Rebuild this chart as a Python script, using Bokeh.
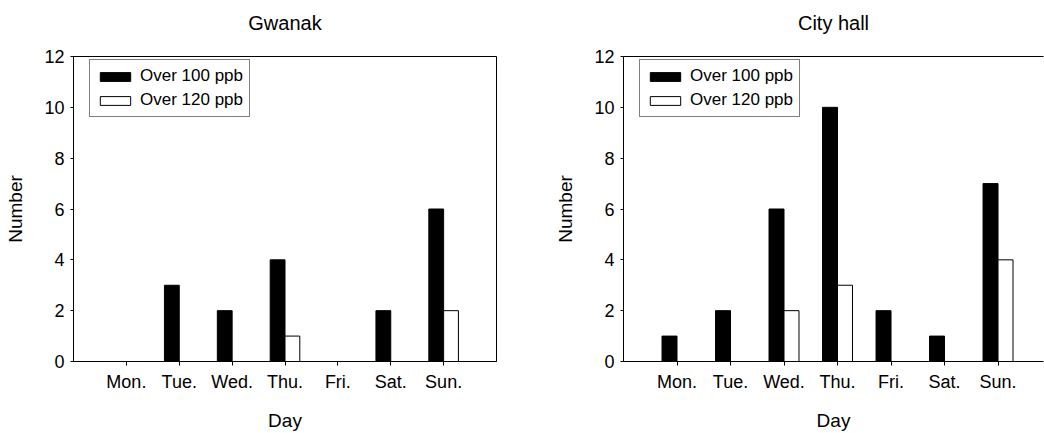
import numpy as np
from bokeh.plotting import figure
from bokeh.layouts import row
from bokeh.models import FixedTicker, Range1d, Legend, LegendItem, LinearAxis, Title
from bokeh.embed import file_html
from bokeh.resources import INLINE

days = ["Mon.", "Tue.", "Wed.", "Thu.", "Fri.", "Sat.", "Sun."]
day_pos = [1, 2, 3, 4, 5, 6, 7]
gwanak_over100 = [0, 3, 2, 4, 0, 2, 6]
gwanak_over120 = [0, 0, 0, 1, 0, 0, 2]
cityhall_over100 = [1, 2, 6, 10, 2, 1, 7]
cityhall_over120 = [0, 0, 2, 3, 0, 0, 4]
y_ticks = [0, 2, 4, 6, 8, 10, 12]
series_labels = ["Over 100 ppb", "Over 120 ppb"]

FONT = "Liberation Sans"
BAR_W = 0.28
FRAME_H = 307
LEGEND_H = 56


def style_axis(ax):
    ax.axis_line_color = "black"
    ax.axis_line_width = 1
    ax.major_tick_line_color = "black"
    ax.major_tick_in = 0
    ax.minor_tick_line_color = None
    ax.major_label_text_font = FONT
    ax.major_label_text_font_size = "18px"
    ax.major_label_text_color = "black"
    ax.axis_label_text_font = FONT
    ax.axis_label_text_font_size = "19px"
    ax.axis_label_text_font_style = "normal"
    ax.axis_label_text_color = "black"


def make(title, v100, v120, width, x_end, border_right, closed):
    p = figure(width=width, height=433, output_backend="svg", toolbar_location=None,
               x_range=Range1d(0, x_end), y_range=Range1d(0, 12),
               min_border_left=73, min_border_right=border_right,
               min_border_top=54, min_border_bottom=72)
    p.title.text = title
    p.title.align = "center"
    p.title.text_font = FONT
    p.title.text_font_size = "20px"
    p.title.text_font_style = "normal"
    p.title.text_color = "black"
    p.title.standoff = 18
    p.xgrid.visible = False
    p.ygrid.visible = False
    p.background_fill_color = "white"
    p.border_fill_color = "white"
    if closed:
        p.outline_line_color = "black"
        p.outline_line_width = 1
    else:
        p.outline_line_color = None
        top = LinearAxis(ticker=FixedTicker(ticks=[]), major_tick_out=0, major_tick_in=0,
                         major_label_standoff=0, major_label_text_font_size="0px")
        top.axis_line_color = "black"
        top.major_tick_line_color = None
        top.minor_tick_line_color = None
        p.add_layout(top, "above")
    # spacer between the title and the frame
    spacer = Title(text=" ", text_font_size="1px", standoff=11)
    p.add_layout(spacer, "above")

    x = np.array(day_pos, dtype=float)
    r1 = p.vbar(x=x - BAR_W / 2, top=v100, width=BAR_W, bottom=0,
                fill_color="black", line_color="black", line_width=1)
    r2 = p.vbar(x=x + BAR_W / 2, top=v120, width=BAR_W, bottom=0,
                fill_color="white", line_color="black", line_width=1)

    xa = p.below[0]
    style_axis(xa)
    xa.ticker = FixedTicker(ticks=day_pos)
    xa.major_label_overrides = {d: lab for d, lab in zip(day_pos, days)}
    xa.major_tick_out = 4
    xa.major_label_standoff = 6
    xa.axis_label = "Day"
    xa.axis_label_standoff = 15

    ya = p.left[0]
    style_axis(ya)
    ya.ticker = FixedTicker(ticks=y_ticks)
    ya.major_tick_out = 3
    ya.major_label_standoff = 6
    ya.axis_label = "Number"
    ya.axis_label_standoff = 15

    legend = Legend(items=[LegendItem(label=series_labels[0], renderers=[r1]),
                           LegendItem(label=series_labels[1], renderers=[r2])],
                    location=(16, FRAME_H - 7 - LEGEND_H))
    legend.label_text_font = FONT
    legend.label_text_font_size = "17px"
    legend.label_text_color = "black"
    legend.border_line_color = "black"
    legend.border_line_width = 1
    legend.background_fill_color = "white"
    legend.background_fill_alpha = 1
    legend.padding = 6
    legend.spacing = 4
    legend.glyph_width = 38
    legend.glyph_height = 11
    legend.label_standoff = 6
    legend.label_height = 20
    legend.margin = 0
    p.add_layout(legend, "center")
    return p


p1 = make("Gwanak", gwanak_over100, gwanak_over120, 550, 8, 54, True)
p2 = make("City hall", cityhall_over100, cityhall_over120, 494, 7.85, 1, False)

layout = row(p1, p2)
open("out.html", "w").write(file_html(layout, INLINE))
